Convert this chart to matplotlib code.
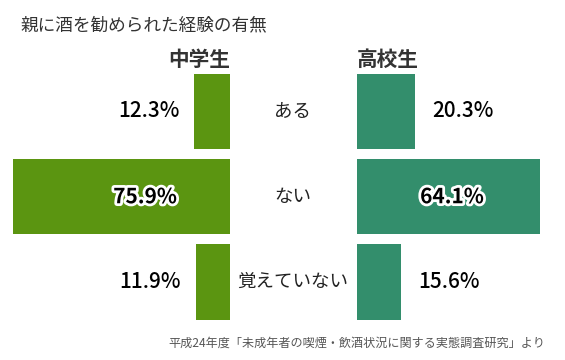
import matplotlib
matplotlib.use("Agg")
import matplotlib.pyplot as plt
import matplotlib.patheffects as pe

plt.rcParams['font.family'] = ['Noto Sans CJK JP', 'DejaVu Sans']

title = "親に酒を勧められた経験の有無"
source = "平成24年度「未成年者の喫煙・飲酒状況に関する実態調査研究」より"
categories = ["ある", "ない", "覚えていない"]
groups = ["中学生", "高校生"]
junior = [12.3, 75.9, 11.9]
senior = [20.3, 64.1, 15.6]

green = "#5b9511"
teal = "#338e6c"
dark = "#333333"

W, H = 565, 360
fig = plt.figure(figsize=(W / 100, H / 100), dpi=100)

# axes placed in pixel terms, 2.85 px per percent
top_px, bot_px = 60, 330
ax_b = (H - bot_px) / H
ax_h = (bot_px - top_px) / H
left_edge, right_edge = 229.5, 357
px_per = 2.85
spacing = 85.25
y0 = -(111.5 - top_px) / spacing
y1 = y0 + (bot_px - top_px) / spacing

axl = fig.add_axes([0, ax_b, left_edge / W, ax_h])
axr = fig.add_axes([right_edge / W, ax_b, (W - right_edge) / W, ax_h])
axl.set_xlim(left_edge / px_per, 0)
axr.set_xlim(0, (W - right_edge) / px_per)
for ax in (axl, axr):
    ax.set_ylim(y1, y0)
    ax.axis("off")

ys = range(len(categories))
axl.barh(ys, junior, height=0.88, color=green)
axr.barh(ys, senior, height=0.88, color=teal)

stroke = [pe.withStroke(linewidth=4, foreground="white")]
for y, v in zip(ys, junior):
    if v > 40:
        axl.text(v * 0.39, y, f"{v}%", ha="center", va="center", fontsize=15,
                 fontweight="bold", color="black", path_effects=stroke)
    else:
        axl.annotate(f"{v}%", (v, y), xytext=(-15, 0), textcoords="offset pixels",
                     ha="right", va="center", fontsize=15, fontweight="medium",
                     color="black")
for y, v in zip(ys, senior):
    if v > 40:
        axr.text(v * 0.52, y, f"{v}%", ha="center", va="center", fontsize=15,
                 fontweight="bold", color="black", path_effects=stroke)
    else:
        axr.annotate(f"{v}%", (v, y), xytext=(17, 0), textcoords="offset pixels",
                     ha="left", va="center", fontsize=15, fontweight="medium",
                     color="black")

# category labels in the middle gap
for y, c in zip(ys, categories):
    yf = 1 - (111.5 + y * spacing) / H
    fig.text(293 / W, yf, c, ha="center", va="center", fontsize=13.3, color="#222222")

fig.text(20 / W, 1 - 25 / H, title, ha="left", va="center", fontsize=12.7, color=dark)
fig.text(230 / W, 1 - 59 / H, groups[0], ha="right", va="center", fontsize=14.9,
         fontweight="bold", color=dark)
fig.text(357 / W, 1 - 59 / H, groups[1], ha="left", va="center", fontsize=14.9,
         fontweight="bold", color=dark)
fig.text(545 / W, 1 - 343 / H, source, ha="right", va="center", fontsize=8.7, color="#555555")

fig.savefig("out.png", dpi=100)
